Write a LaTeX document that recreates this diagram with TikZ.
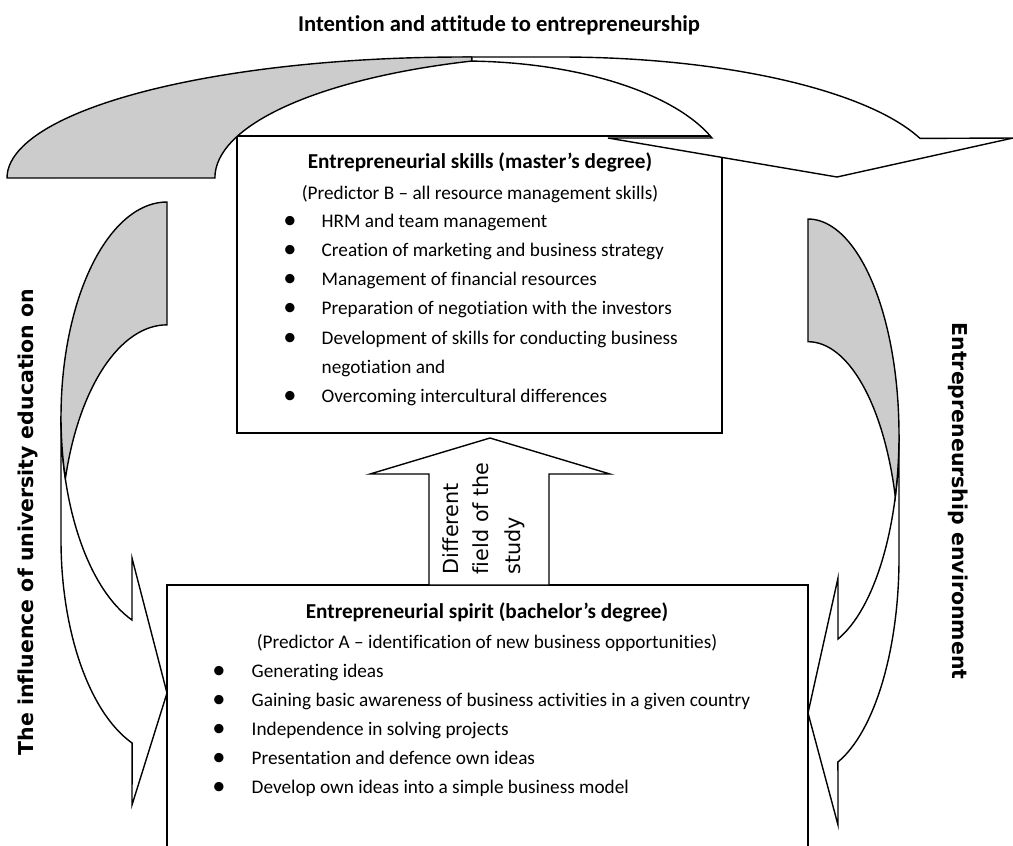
\documentclass[tikz,border=0pt]{standalone}
\usepackage{fontspec}
\setmainfont{Carlito}[Ligatures=NoCommon]
\newfontfamily\verdfont{DejaVu Sans}[Ligatures=NoCommon]
\newlength{\du}
\setlength{\du}{0.53pt}
\tikzset{
  titletext/.style={anchor=base, inner sep=0pt, font=\fontsize{12}{14}\selectfont\bfseries},
  headtext/.style={anchor=base, inner sep=0pt, font=\fontsize{11.25}{13}\selectfont\bfseries},
  subtext/.style={anchor=base, inner sep=0pt, font=\fontsize{10.2}{12}\selectfont},
  itemtext/.style={anchor=base west, inner sep=0pt, font=\fontsize{10.2}{12}\selectfont},
  bulletmark/.style={anchor=base, inner sep=0pt, font=\fontsize{14}{16}\selectfont},
  sidetext/.style={anchor=base, inner sep=0pt, font=\verdfont\fontsize{10.85}{13}\selectfont\bfseries},
  studytext/.style={anchor=base west, inner sep=0pt, rotate=90, font=\verdfont\fontsize{11}{13}\selectfont}
}
\begin{document}
\begin{tikzpicture}
\pgftransformxscale{1.000000}
\pgftransformyscale{-1.000000}
\useasboundingbox (0\du,0\du) rectangle (1013\du,845\du);
\clip (0\du,0\du) rectangle (1013\du,845\du);
\pgfsetlinewidth{1.400000\du}
\pgfsetdash{}{0pt}
\pgfsetmiterjoin
\definecolor{dialinecolor}{rgb}{0.000000, 0.000000, 0.000000}
\pgfsetstrokecolor{dialinecolor}
% box master's degree
\definecolor{dialinecolor}{rgb}{1.000000, 1.000000, 1.000000}
\pgfsetfillcolor{dialinecolor}
\fill (237\du,136\du)--(237\du,433\du)--(722\du,433\du)--(722\du,136\du)--cycle;
\draw (237\du,136\du)--(237\du,433\du)--(722\du,433\du)--(722\du,136\du)--cycle;
% box bachelor's degree
\fill (167\du,585\du)--(167\du,870\du)--(808\du,870\du)--(808\du,585\du)--cycle;
\draw (167\du,585\du)--(167\du,870\du)--(808\du,870\du)--(808\du,585\du)--cycle;
% up arrow
\fill (429\du,585\du)--(429\du,474\du)--(370\du,474\du)--(490\du,438\du)--(610\du,474\du)--(549\du,474\du)--(549\du,585\du)--cycle;
\draw (429\du,585\du)--(429\du,474\du)--(370\du,474\du)--(490\du,438\du)--(610\du,474\du)--(549\du,474\du)--(549\du,585\du)--cycle;
% left arrow, front
\fill (61\du,417\du)--(61\du,540\du) arc[start angle=180, end angle=109.2, x radius=106\du, y radius=215\du]--(132\du,805\du)--(167\du,693\du)--(132\du,558\du)--(132\du,620\du) arc[start angle=109.2, end angle=180, x radius=106\du, y radius=215\du]--cycle;
\draw (61\du,417\du)--(61\du,540\du) arc[start angle=180, end angle=109.2, x radius=106\du, y radius=215\du]--(132\du,805\du)--(167\du,693\du)--(132\du,558\du)--(132\du,620\du) arc[start angle=109.2, end angle=180, x radius=106\du, y radius=215\du]--cycle;
% right arrow, front
\fill (899\du,435\du)--(899\du,558\du) arc[start angle=0, end angle=70.8, x radius=91\du, y radius=216\du]--(838\du,825\du)--(808\du,713\du)--(838\du,578\du)--(838\du,639\du) arc[start angle=70.8, end angle=0, x radius=91\du, y radius=216\du]--cycle;
\draw (899\du,435\du)--(899\du,558\du) arc[start angle=0, end angle=70.8, x radius=91\du, y radius=216\du]--(838\du,825\du)--(808\du,713\du)--(838\du,578\du)--(838\du,639\du) arc[start angle=70.8, end angle=0, x radius=91\du, y radius=216\du]--cycle;
% top arrow, front
\fill (463\du,57\du)--(560\du,57\du) arc[start angle=270, end angle=340.9, x radius=381\du, y radius=121\du]--(1013\du,138\du)--(837\du,177\du)--(608\du,138\du)--(712\du,138\du) arc[start angle=340, end angle=270, x radius=265\du, y radius=117\du]--cycle;
\draw (463\du,57\du)--(560\du,57\du) arc[start angle=270, end angle=340.9, x radius=381\du, y radius=121\du]--(1013\du,138\du)--(837\du,177\du)--(608\du,138\du)--(712\du,138\du) arc[start angle=340, end angle=270, x radius=265\du, y radius=117\du]--cycle;
% back faces
\definecolor{dialinecolor}{rgb}{0.800000, 0.800000, 0.800000}
\pgfsetfillcolor{dialinecolor}
\fill (167\du,202\du) arc[start angle=270, end angle=163.4, x radius=106\du, y radius=215\du] arc[start angle=196.6, end angle=270, x radius=106\du, y radius=215\du]--cycle;
\draw (167\du,202\du) arc[start angle=270, end angle=163.4, x radius=106\du, y radius=215\du] arc[start angle=196.6, end angle=270, x radius=106\du, y radius=215\du]--cycle;
\fill (808\du,219\du) arc[start angle=270, end angle=376.5, x radius=91\du, y radius=216\du] arc[start angle=343.5, end angle=270, x radius=91\du, y radius=216\du]--cycle;
\draw (808\du,219\du) arc[start angle=270, end angle=376.5, x radius=91\du, y radius=216\du] arc[start angle=343.5, end angle=270, x radius=91\du, y radius=216\du]--cycle;
\fill (7\du,178\du) arc[start angle=180, end angle=271.1, x radius=456\du, y radius=121\du]--(472\du,61\du) arc[start angle=250.6, end angle=180, x radius=385\du, y radius=124\du]--cycle;
\draw (7\du,178\du) arc[start angle=180, end angle=271.1, x radius=456\du, y radius=121\du]--(472\du,61\du) arc[start angle=250.6, end angle=180, x radius=385\du, y radius=124\du]--cycle;
% setfont left to latex
\definecolor{dialinecolor}{rgb}{0.000000, 0.000000, 0.000000}
\pgfsetstrokecolor{dialinecolor}
\node[titletext] (intention) at (499\du,31\du){Intention and attitude to entrepreneurship};
\node[sidetext, rotate=90] (influence) at (33\du,522\du){The influence of university education on};
\node[sidetext, rotate=-90] (environment) at (952\du,501\du){Entrepreneurship environment};
% setfont left to latex
\node[studytext] (study1) at (458\du,575\du){Different};
\node[studytext] (study2) at (488\du,575\du){field of the};
\node[studytext] (study3) at (520\du,575\du){study};
% setfont left to latex
\node[headtext] (skillshead) at (480\du,168\du){Entrepreneurial skills (master’s degree)};
\node[subtext] (skillssub) at (480\du,199\du){(Predictor B – all resource management skills)};
\node[bulletmark] (sb1) at (290\du,228\du){•};
\node[itemtext] (si1) at (321\du,227\du){HRM and team management};
\node[bulletmark] (sb2) at (290\du,257\du){•};
\node[itemtext] (si2) at (321\du,256\du){Creation of marketing and business strategy};
\node[bulletmark] (sb3) at (290\du,286\du){•};
\node[itemtext] (si3) at (321\du,285\du){Management of financial resources};
\node[bulletmark] (sb4) at (290\du,315\du){•};
\node[itemtext] (si4) at (321\du,314\du){Preparation of negotiation with the investors};
\node[bulletmark] (sb5) at (290\du,345\du){•};
\node[itemtext] (si5) at (321\du,344\du){Development of skills for conducting business};
\node[itemtext] (si5b) at (321\du,373\du){negotiation and};
\node[bulletmark] (sb6) at (290\du,403\du){•};
\node[itemtext] (si6) at (321\du,402\du){Overcoming intercultural differences};
% setfont left to latex
\node[headtext] (spirithead) at (487\du,618\du){Entrepreneurial spirit (bachelor’s degree)};
\node[subtext] (spiritsub) at (487\du,648\du){(Predictor A – identification of new business opportunities)};
\node[bulletmark] (pb1) at (219\du,678\du){•};
\node[itemtext] (pi1) at (251\du,677\du){Generating ideas};
\node[bulletmark] (pb2) at (219\du,707\du){•};
\node[itemtext] (pi2) at (251\du,706\du){Gaining basic awareness of business activities in a given country};
\node[bulletmark] (pb3) at (219\du,736\du){•};
\node[itemtext] (pi3) at (251\du,735\du){Independence in solving projects};
\node[bulletmark] (pb4) at (219\du,765\du){•};
\node[itemtext] (pi4) at (251\du,764\du){Presentation and defence own ideas};
\node[bulletmark] (pb5) at (219\du,794\du){•};
\node[itemtext] (pi5) at (251\du,793\du){Develop own ideas into a simple business model};
\end{tikzpicture}
\end{document}
